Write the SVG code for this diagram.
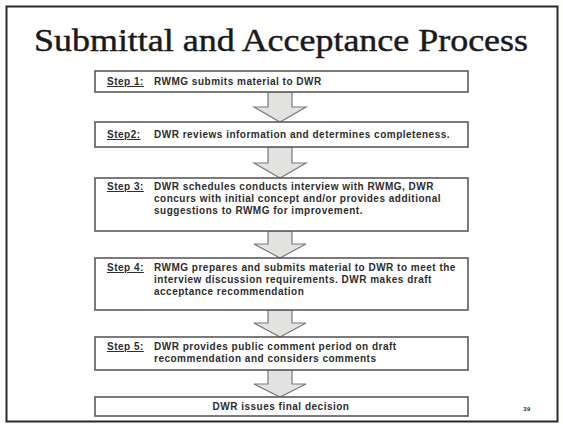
<svg xmlns="http://www.w3.org/2000/svg" width="563" height="424" viewBox="0 0 563 424">
<defs>
<style>
.box{fill:#fff;stroke:#5a5a5a;stroke-width:1.6}
.arrow{fill:#e2e2e0;stroke:#7a7a7a;stroke-width:1.2}
.t{font-family:"Liberation Sans",Arial,sans-serif;font-weight:bold;font-size:10px;fill:#2e2e2e;letter-spacing:0.5px}
.s{text-decoration:underline}
.title{font-family:"Liberation Serif","Times New Roman",serif;font-size:32px;fill:#1a1a1a;stroke:#1a1a1a;stroke-width:0.45}
</style>
</defs>
<rect x="0" y="0" width="563" height="424" fill="#fdfdfb"/>
<rect x="6.5" y="6.5" width="551" height="415" fill="#fff" stroke="#2a2a2a" stroke-width="2"/>
<text class="title" x="281" y="51" text-anchor="middle" textLength="494" lengthAdjust="spacingAndGlyphs">Submittal and Acceptance Process</text>

<g id="connectors">
<path class="arrow" d="M268,92 H292 V107 H306 L280,122 L254,107 H268 Z"/>
<path class="arrow" d="M268,147 H292 V163 H306 L280,178 L254,163 H268 Z"/>
<path class="arrow" d="M268,231 H292 V244 H306 L280,258 L254,244 H268 Z"/>
<path class="arrow" d="M268,310 H292 V323 H306 L280,337 L254,323 H268 Z"/>
<path class="arrow" d="M268,370 H292 V384 H306 L280,397 L254,384 H268 Z"/>
</g>

<g id="step1">
<rect class="box" x="95" y="71" width="373" height="21"/>
<text class="t" x="107" y="85"><tspan class="s">Step 1:</tspan><tspan x="154">RWMG submits material to DWR</tspan></text>
</g>
<g id="step2">
<rect class="box" x="95" y="122" width="373" height="25"/>
<text class="t" x="107" y="138"><tspan class="s">Step2:</tspan><tspan x="154">DWR reviews information and determines completeness.</tspan></text>
</g>
<g id="step3">
<rect class="box" x="95" y="178" width="373" height="53"/>
<text class="t" x="107" y="190"><tspan class="s">Step 3:</tspan><tspan x="154">DWR schedules conducts interview with RWMG, DWR</tspan></text>
<text class="t" x="154" y="202">concurs with initial concept and/or provides additional</text>
<text class="t" x="154" y="214">suggestions to RWMG for improvement.</text>
</g>
<g id="step4">
<rect class="box" x="95" y="258" width="373" height="52"/>
<text class="t" x="107" y="271"><tspan class="s">Step 4:</tspan><tspan x="154">RWMG prepares and submits material to DWR to meet the</tspan></text>
<text class="t" x="154" y="283">interview discussion requirements. DWR makes draft</text>
<text class="t" x="154" y="295">acceptance recommendation</text>
</g>
<g id="step5">
<rect class="box" x="95" y="337" width="373" height="33"/>
<text class="t" x="107" y="350"><tspan class="s">Step 5:</tspan><tspan x="154">DWR provides public comment period on draft</tspan></text>
<text class="t" x="154" y="362">recommendation and considers comments</text>
</g>
<g id="final">
<rect class="box" x="95" y="397" width="373" height="19"/>
<text class="t" x="281" y="410" text-anchor="middle">DWR issues final decision</text>
</g>
<text class="t" x="527" y="411" style="font-size:6px" text-anchor="middle">39</text>
</svg>
